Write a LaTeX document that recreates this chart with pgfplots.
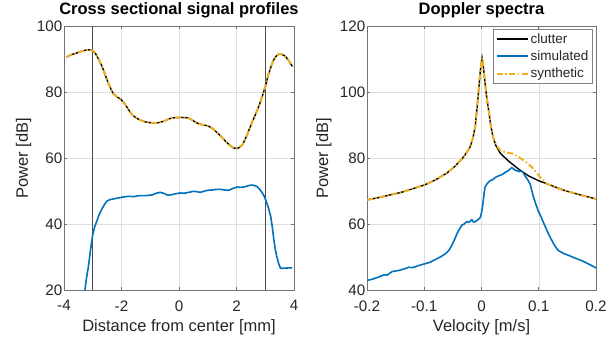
\documentclass[border=0pt]{standalone}
\usepackage{fontspec}
\setmainfont{Liberation Sans}
\usepackage{pgfplots}
\pgfplotsset{compat=1.18}
\definecolor{mblue}{RGB}{0,114,189}
\definecolor{morange}{RGB}{237,177,32}
\definecolor{axgray}{RGB}{38,38,38}
\begin{document}
\begin{tikzpicture}
\useasboundingbox (-64pt,-47pt) rectangle (551pt,290pt);
\pgfplotsset{
  mystyle/.style={
    scale only axis, width=230pt, height=264pt,
    axis line style={black!55, line width=0.6pt},
    tick align=inside, major tick length=3pt, tick style={black!55, line width=0.6pt},
    grid=major, major grid style={black!13, line width=0.5pt},
    ticklabel style={font=\fontsize{15.2}{17}\selectfont, text=axgray},
    yticklabel style={inner xsep=1.5pt},
    xticklabel style={yshift=-7pt},
    /pgf/number format/assume math mode=true,
    label style={font=\fontsize{16.5}{18}\selectfont, text=axgray},
    title style={font=\fontsize{16.5}{18}\selectfont\bfseries, at={(axis description cs:0.5,1.02)}, anchor=base},
    xlabel style={at={(axis description cs:0.5,-0.159)}, anchor=base},
    clip=true,
  },
  dd/.style={morange, line width=2pt, dash pattern=on 6pt off 2.5pt on 1.5pt off 2.5pt},
}
\begin{axis}[mystyle, at={(0pt,0pt)}, anchor=south west,
  xmin=-4, xmax=4, ymin=20, ymax=100,
  xtick={-4,-2,0,2,4}, ytick={20,40,60,80,100},
  title={Cross sectional signal profiles},
  xlabel={Distance from center [mm]}, ylabel={Power [dB]},
  ylabel style={at={(axis description cs:-0.157,0.5)}, anchor=base}]
\addplot[black!70, line width=0.7pt] coordinates {(-3,20) (-3,100)};
\addplot[black!70, line width=0.7pt] coordinates {(3,20) (3,100)};
\pgfplotstableread{
x y
-3.91 90.6
-3.75 91.3
-3.56 91.8
-3.40 92.3
-3.25 92.7
-3.12 92.8
-3.00 92.5
-2.90 91.6
-2.80 90.0
-2.68 87.8
-2.60 86.0
-2.51 83.8
-2.40 81.5
-2.28 79.4
-2.15 78.5
-2.04 77.9
-1.95 77.1
-1.87 76.2
-1.75 74.6
-1.64 73.2
-1.50 72.2
-1.35 71.5
-1.20 71.0
-1.00 70.7
-0.85 70.6
-0.71 70.7
-0.55 71.1
-0.41 71.6
-0.30 72.0
-0.18 72.2
0.05 72.3
0.28 72.2
0.38 71.9
0.46 71.5
0.60 70.7
0.75 70.2
0.98 69.8
1.10 69.3
1.22 68.6
1.36 67.4
1.51 66.1
1.65 64.8
1.80 63.6
1.92 63.0
2.03 62.9
2.12 63.3
2.21 64.1
2.32 66.0
2.44 68.6
2.58 71.6
2.73 74.6
2.88 78.2
3.02 82.2
3.10 85.0
3.20 87.7
3.28 89.5
3.37 90.8
3.46 91.4
3.54 91.5
3.63 91.2
3.72 90.6
3.83 89.3
3.95 87.7
}\lefttop
\addplot[black, line width=1.4pt] table {\lefttop};
\addplot[dd] table {\lefttop};
\addplot[mblue, line width=1.6pt] coordinates {
(-3.27,20) (-3.22,23.5) (-3.15,27.1) (-3.08,32.0) (-3.0,36.8) (-2.93,39.2) (-2.86,40.8)
(-2.78,42.8) (-2.69,44.4) (-2.60,45.8) (-2.51,46.9) (-2.40,47.4) (-2.28,47.6) (-2.10,47.9)
(-1.93,48.2) (-1.75,48.4) (-1.58,48.3) (-1.45,48.5) (-1.35,48.6) (-1.15,48.6) (-0.94,48.8)
(-0.80,49.3) (-0.65,49.6) (-0.50,49.2) (-0.38,48.7) (-0.25,48.9) (-0.10,49.2) (0.05,49.4)
(0.18,49.3) (0.28,49.5) (0.40,49.7) (0.51,49.9) (0.62,49.8) (0.74,49.6) (0.86,49.9)
(0.98,50.2) (1.15,50.3) (1.30,50.5) (1.44,50.5) (1.60,50.3) (1.73,50.2) (1.85,50.7)
(2.02,51.2) (2.15,51.1) (2.31,51.3) (2.45,51.7) (2.55,51.8) (2.65,51.6) (2.72,51.3)
(2.80,50.6) (2.90,49.4) (2.96,48.5) (3.01,47.4) (3.10,45.2) (3.19,42.3) (3.25,38.8)
(3.30,35.2) (3.35,32.3) (3.40,30.2) (3.46,28.2) (3.53,26.6) (3.65,26.6) (3.80,26.7) (3.94,26.7)
};
\end{axis}
\begin{axis}[mystyle, at={(303pt,0pt)}, anchor=south west, width=229pt,
  xmin=-0.2, xmax=0.2, ymin=40, ymax=120,
  xtick={-0.2,-0.1,0,0.1,0.2}, ytick={40,60,80,100,120},
  xticklabels={-0.2,-0.1,0,0.1,0.2},
  title={Doppler spectra},
  xlabel={Velocity [m/s]}, ylabel={Power [dB]},
  ylabel style={at={(axis description cs:-0.17,0.5)}, anchor=base},
  legend style={at={(axis description cs:0.985,0.988)}, anchor=north east,
    font=\fontsize{13.5}{15.5}\selectfont, draw=black!50,
    inner xsep=2pt, inner ysep=2pt, row sep=2pt, cells={anchor=west, text=axgray}},
  legend image code/.code={\draw[#1] (0pt,0pt) -- (31pt,0pt);},
  ]
\pgfplotstableread{
x y
-0.200 67.3
-0.180 68.0
-0.160 68.8
-0.140 69.6
-0.120 70.7
-0.100 71.8
-0.080 73.4
-0.060 75.5
-0.045 77.7
-0.030 80.6
-0.020 83.3
-0.015 86.0
-0.011 89.5
-0.007 96.5
-0.004 102.5
-0.002 106.5
0.001 110.3
0.003 108.0
0.006 103.0
0.009 98.5
0.012 95.0
0.016 90.0
0.020 86.5
0.025 83.8
0.033 81.4
0.047 79.1
0.065 76.6
0.082 74.6
0.100 73.1
0.123 71.6
0.146 70.1
0.175 68.7
0.200 67.6
}\clutter
\pgfplotstableread{
x y
-0.200 67.3
-0.180 68.0
-0.160 68.8
-0.140 69.6
-0.120 70.7
-0.100 71.8
-0.080 73.4
-0.060 75.5
-0.045 77.7
-0.030 80.6
-0.020 83.3
-0.015 86.0
-0.011 89.5
-0.007 96.5
-0.004 102.5
-0.002 106.5
0.001 110.3
0.003 108.0
0.006 103.0
0.009 98.5
0.012 95.0
0.016 90.0
0.020 86.5
0.025 84.0
0.033 82.3
0.045 81.6
0.053 81.4
0.062 80.6
0.070 79.7
0.079 78.6
0.088 77.2
0.095 75.8
0.102 74.3
0.114 72.2
0.129 71.0
0.146 70.1
0.175 68.7
0.200 67.6
}\synth
\addplot[black, line width=1.4pt] table {\clutter};
\addlegendentry{clutter}
\addplot[mblue, line width=1.6pt] coordinates {
(-0.200,42.9) (-0.190,43.3) (-0.180,43.9) (-0.170,44.6) (-0.165,44.5) (-0.156,45.6) (-0.145,45.9)
(-0.135,46.4) (-0.127,46.9) (-0.120,46.8) (-0.110,47.4) (-0.100,47.9) (-0.090,48.4)
(-0.081,49.2) (-0.072,50.0) (-0.063,51.0) (-0.057,52.0) (-0.052,53.5) (-0.047,55.3)
(-0.043,57.0) (-0.038,58.6) (-0.034,59.7) (-0.030,60.0) (-0.026,60.7) (-0.022,60.5)
(-0.017,61.3) (-0.014,60.6) (-0.011,60.7) (-0.006,61.3) (-0.002,62.0) (0.000,63.5)
(0.002,65.5) (0.004,68.5) (0.006,71.1) (0.010,72.3) (0.015,73.1) (0.020,73.5)
(0.025,74.2) (0.030,74.6) (0.036,75.0) (0.041,75.6) (0.047,76.2) (0.053,77.1)
(0.058,76.4) (0.062,76.1) (0.066,75.9) (0.070,76.0) (0.073,75.5) (0.076,74.6)
(0.080,73.6) (0.085,72.1) (0.088,70.0) (0.091,68.0) (0.095,66.0) (0.099,64.0)
(0.104,62.2) (0.108,60.5) (0.113,58.6) (0.117,57.0) (0.122,55.3) (0.126,54.0)
(0.130,52.9) (0.134,52.0) (0.143,51.1) (0.152,50.5) (0.163,49.7) (0.175,48.9)
(0.188,47.8) (0.200,46.7)
};
\addlegendentry{simulated}
\addplot[dd] table {\synth};
\addlegendentry{synthetic}
\end{axis}
\end{tikzpicture}
\end{document}
